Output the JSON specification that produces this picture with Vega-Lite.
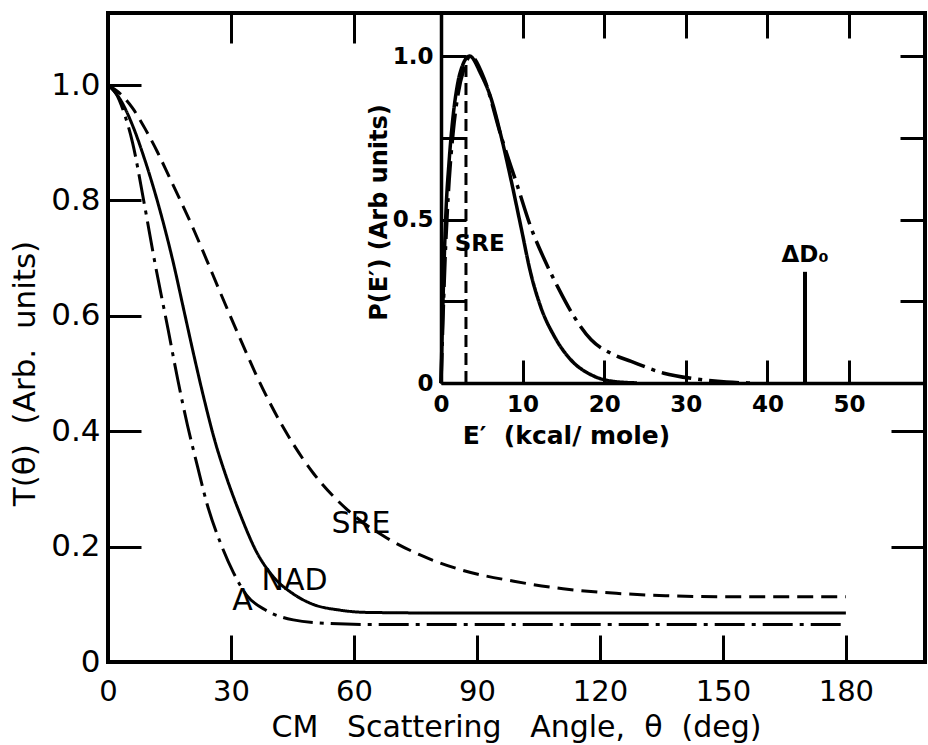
{
  "$schema": "https://vega.github.io/schema/vega-lite/v6.json",
  "width": 817,
  "height": 649,
  "autosize": {"type": "none"},
  "padding": {"left": 108, "top": 13, "right": 3, "bottom": 83},
  "background": "white",
  "config": {
    "view": {"stroke": "black", "strokeWidth": 4},
    "axis": {
      "grid": false, "domain": false,
      "labelFont": "DejaVu Sans", "titleFont": "DejaVu Sans",
      "labelColor": "black", "titleColor": "black", "tickColor": "black",
      "labelFontWeight": "normal", "titleFontWeight": "normal",
      "labelFlush": false, "labelOverlap": false
    },
    "text": {"font": "DejaVu Sans", "color": "black"}
  },
  "datasets": {
    "main": [
      {"deg": 0, "T": 1.0, "model": "SRE"}, {"deg": 3, "T": 0.985, "model": "SRE"}, {"deg": 6, "T": 0.96, "model": "SRE"},
      {"deg": 9, "T": 0.925, "model": "SRE"}, {"deg": 12, "T": 0.885, "model": "SRE"}, {"deg": 15, "T": 0.84, "model": "SRE"},
      {"deg": 18, "T": 0.795, "model": "SRE"}, {"deg": 21, "T": 0.748, "model": "SRE"}, {"deg": 24, "T": 0.698, "model": "SRE"},
      {"deg": 27, "T": 0.647, "model": "SRE"}, {"deg": 30, "T": 0.597, "model": "SRE"}, {"deg": 33, "T": 0.548, "model": "SRE"},
      {"deg": 36, "T": 0.5, "model": "SRE"}, {"deg": 39, "T": 0.456, "model": "SRE"}, {"deg": 42, "T": 0.416, "model": "SRE"},
      {"deg": 45, "T": 0.38, "model": "SRE"}, {"deg": 50, "T": 0.328, "model": "SRE"}, {"deg": 55, "T": 0.287, "model": "SRE"},
      {"deg": 60, "T": 0.254, "model": "SRE"}, {"deg": 68, "T": 0.215, "model": "SRE"}, {"deg": 76, "T": 0.186, "model": "SRE"},
      {"deg": 86, "T": 0.16, "model": "SRE"}, {"deg": 99, "T": 0.14, "model": "SRE"}, {"deg": 111, "T": 0.127, "model": "SRE"},
      {"deg": 124, "T": 0.119, "model": "SRE"}, {"deg": 136, "T": 0.115, "model": "SRE"}, {"deg": 150, "T": 0.113, "model": "SRE"},
      {"deg": 180, "T": 0.113, "model": "SRE"},
      {"deg": 0, "T": 1.0, "model": "NAD"}, {"deg": 3, "T": 0.975, "model": "NAD"}, {"deg": 6, "T": 0.93, "model": "NAD"},
      {"deg": 9, "T": 0.87, "model": "NAD"}, {"deg": 12.2, "T": 0.795, "model": "NAD"}, {"deg": 16, "T": 0.69, "model": "NAD"},
      {"deg": 18.5, "T": 0.61, "model": "NAD"}, {"deg": 21, "T": 0.53, "model": "NAD"}, {"deg": 23.4, "T": 0.457, "model": "NAD"},
      {"deg": 26, "T": 0.385, "model": "NAD"}, {"deg": 29, "T": 0.318, "model": "NAD"}, {"deg": 32.3, "T": 0.255, "model": "NAD"},
      {"deg": 36.3, "T": 0.19, "model": "NAD"}, {"deg": 40.3, "T": 0.148, "model": "NAD"}, {"deg": 45.2, "T": 0.118, "model": "NAD"},
      {"deg": 50, "T": 0.1, "model": "NAD"}, {"deg": 56.5, "T": 0.09, "model": "NAD"}, {"deg": 63, "T": 0.086, "model": "NAD"},
      {"deg": 80, "T": 0.085, "model": "NAD"}, {"deg": 120, "T": 0.085, "model": "NAD"}, {"deg": 180, "T": 0.085, "model": "NAD"},
      {"deg": 0, "T": 1.0, "model": "A"}, {"deg": 2, "T": 0.985, "model": "A"}, {"deg": 4, "T": 0.95, "model": "A"},
      {"deg": 6, "T": 0.9, "model": "A"}, {"deg": 8.7, "T": 0.8, "model": "A"}, {"deg": 11.5, "T": 0.69, "model": "A"},
      {"deg": 14.7, "T": 0.575, "model": "A"}, {"deg": 17, "T": 0.49, "model": "A"}, {"deg": 19.4, "T": 0.41, "model": "A"},
      {"deg": 21.8, "T": 0.34, "model": "A"}, {"deg": 24.2, "T": 0.273, "model": "A"}, {"deg": 27.4, "T": 0.207, "model": "A"},
      {"deg": 30.6, "T": 0.155, "model": "A"}, {"deg": 33.9, "T": 0.115, "model": "A"}, {"deg": 38.7, "T": 0.089, "model": "A"},
      {"deg": 45.2, "T": 0.073, "model": "A"}, {"deg": 53.2, "T": 0.067, "model": "A"}, {"deg": 63, "T": 0.065, "model": "A"},
      {"deg": 120, "T": 0.065, "model": "A"}, {"deg": 180, "T": 0.065, "model": "A"}
    ],
    "mainlabels": [
      {"deg": 61.7, "T": 0.24, "label": "SRE"},
      {"deg": 45.5, "T": 0.14, "label": "NAD"},
      {"deg": 32.8, "T": 0.105, "label": "A"}
    ],
    "inset": [
      {"E": 0, "P": 0, "model": "NAD"}, {"E": 0.3, "P": 0.3, "model": "NAD"}, {"E": 0.6, "P": 0.52, "model": "NAD"},
      {"E": 1.0, "P": 0.68, "model": "NAD"}, {"E": 1.5, "P": 0.82, "model": "NAD"}, {"E": 2.0, "P": 0.91, "model": "NAD"},
      {"E": 2.7, "P": 0.975, "model": "NAD"}, {"E": 3.5, "P": 1.0, "model": "NAD"}, {"E": 4.9, "P": 0.944, "model": "NAD"},
      {"E": 6.1, "P": 0.873, "model": "NAD"}, {"E": 7.3, "P": 0.761, "model": "NAD"}, {"E": 8.6, "P": 0.619, "model": "NAD"},
      {"E": 9.8, "P": 0.477, "model": "NAD"}, {"E": 11.0, "P": 0.335, "model": "NAD"}, {"E": 12.2, "P": 0.234, "model": "NAD"},
      {"E": 13.9, "P": 0.142, "model": "NAD"}, {"E": 15.9, "P": 0.071, "model": "NAD"}, {"E": 18.4, "P": 0.025, "model": "NAD"},
      {"E": 20.8, "P": 0.006, "model": "NAD"}, {"E": 24, "P": 0, "model": "NAD"},
      {"E": 0, "P": 0, "model": "A"}, {"E": 0.5, "P": 0.38, "model": "A"}, {"E": 1.0, "P": 0.62, "model": "A"},
      {"E": 1.5, "P": 0.77, "model": "A"}, {"E": 2.0, "P": 0.87, "model": "A"}, {"E": 2.8, "P": 0.96, "model": "A"},
      {"E": 3.6, "P": 1.0, "model": "A"}, {"E": 5.3, "P": 0.93, "model": "A"}, {"E": 7.3, "P": 0.76, "model": "A"},
      {"E": 9.4, "P": 0.6, "model": "A"}, {"E": 11, "P": 0.477, "model": "A"}, {"E": 12.7, "P": 0.376, "model": "A"},
      {"E": 14.3, "P": 0.294, "model": "A"}, {"E": 16.3, "P": 0.203, "model": "A"}, {"E": 18.4, "P": 0.132, "model": "A"},
      {"E": 20.8, "P": 0.091, "model": "A"}, {"E": 23.3, "P": 0.066, "model": "A"}, {"E": 27.3, "P": 0.03, "model": "A"},
      {"E": 31, "P": 0.013, "model": "A"}, {"E": 35, "P": 0.003, "model": "A"}, {"E": 38, "P": 0, "model": "A"}
    ],
    "sreline": [{"E": 3.06, "P0": 0, "P1": 0.98}],
    "ddline": [{"E": 44.6, "P0": 0, "P1": 0.34}],
    "insetlabels": [{"E": 4.75, "P": 0.426, "label": "SRE"}],
    "ddlabel": [{"E": 44.6, "P": 0.39, "label": "ΔD₀"}]
  },
  "resolve": {"scale": {"x": "independent", "y": "independent"}},
  "layer": [
    {
      "data": {"name": "main"},
      "mark": {"type": "line", "strokeWidth": 3, "interpolate": "monotone", "color": "black"},
      "encoding": {
        "x": {
          "field": "deg", "type": "quantitative",
          "scale": {"domain": [0, 199.3], "nice": false, "zero": false},
          "axis": {
            "orient": "bottom", "values": [0, 30, 60, 90, 120, 150, 180],
            "tickSize": -27, "tickWidth": 3, "labelPadding": 42, "labelFontSize": 29, "labelBaseline": "top",
            "title": "CM\u00a0\u00a0\u00a0Scattering\u00a0\u00a0\u00a0Angle,\u00a0\u00a0θ\u00a0\u00a0(deg)", "titleFontSize": 30,
            "titleX": 408, "titleY": 74, "titleBaseline": "alphabetic", "titleAlign": "center"
          }
        },
        "y": {
          "field": "T", "type": "quantitative",
          "scale": {"domain": [0, 1.125], "nice": false},
          "axis": {
            "orient": "left", "values": [0, 0.2, 0.4, 0.6, 0.8, 1.0],
            "labelExpr": "datum.value == 0 ? '0' : format(datum.value, '.1f')",
            "tickSize": -33, "tickWidth": 3, "labelPadding": 41, "labelFontSize": 31,
            "title": "T(θ)\u00a0\u00a0(Arb.\u00a0\u00a0units)", "titleFontSize": 31,
            "titleX": -83, "titleY": 360, "titleAngle": -90, "titleBaseline": "middle", "titleAlign": "center"
          }
        },
        "strokeDash": {
          "field": "model", "type": "nominal",
          "scale": {"domain": ["SRE", "NAD", "A"], "range": [[16, 8], [1, 0], [30, 7, 4, 7]]},
          "legend": null
        }
      }
    },
    {
      "data": {"name": "mainlabels"},
      "mark": {"type": "text", "fontSize": 30, "align": "center", "baseline": "middle"},
      "encoding": {
        "x": {
          "field": "deg", "type": "quantitative",
          "scale": {"domain": [0, 199.3], "nice": false, "zero": false},
          "axis": {"orient": "top", "values": [30, 60], "tickSize": -30, "tickWidth": 3, "labels": false, "title": null}
        },
        "y": {
          "field": "T", "type": "quantitative",
          "scale": {"domain": [0, 1.125], "nice": false},
          "axis": {"orient": "right", "values": [0.2, 0.4], "tickSize": -34, "tickWidth": 3, "labels": false, "title": null}
        },
        "text": {"field": "label"}
      }
    },
    {
      "data": {"name": "inset"},
      "mark": {"type": "line", "strokeWidth": 3.5, "interpolate": "monotone", "color": "black"},
      "encoding": {
        "x": {
          "field": "E", "type": "quantitative",
          "scale": {"domain": [0, 59.3], "range": [333, 817], "nice": false, "zero": false},
          "axis": {
            "orient": "bottom", "offset": -279, "values": [0, 10, 20, 30, 40, 50],
            "tickSize": -23, "tickWidth": 3, "labelPadding": 33, "labelFontSize": 23, "labelFontWeight": "bold", "labelBaseline": "top",
            "domain": true, "domainWidth": 3.5, "domainColor": "black",
            "title": "E′\u00a0\u00a0(kcal/\u00a0mole)", "titleFontSize": 25, "titleFontWeight": "bold",
            "titleX": 458, "titleY": 52, "titleBaseline": "middle", "titleAlign": "center"
          }
        },
        "y": {
          "field": "P", "type": "quantitative",
          "scale": {"domain": [0, 1.1315], "range": [370, 0], "nice": false},
          "axis": {
            "orient": "left", "offset": -333, "values": [0, 0.25, 0.5, 0.75, 1.0],
            "labelExpr": "datum.value == 0 ? '0' : (datum.value == 0.5 ? '0.5' : (datum.value == 1 ? '1.0' : ''))",
            "tickSize": -25, "tickWidth": 3, "labelPadding": 33, "labelFontSize": 23, "labelFontWeight": "bold",
            "domain": true, "domainWidth": 3.5, "domainColor": "black",
            "title": "P(E′)\u00a0(Arb\u00a0units)", "titleFontSize": 24, "titleFontWeight": "bold",
            "titleX": -62, "titleY": 199, "titleAngle": -90, "titleBaseline": "middle", "titleAlign": "center"
          }
        },
        "strokeDash": {
          "field": "model", "type": "nominal",
          "scale": {"domain": ["NAD", "A"], "range": [[1, 0], [14, 6, 4, 6]]},
          "legend": null
        }
      }
    },
    {
      "data": {"name": "sreline"},
      "mark": {"type": "rule", "color": "black", "strokeWidth": 3, "strokeDash": [12, 6]},
      "encoding": {
        "x": {"field": "E", "type": "quantitative", "scale": {"domain": [0, 59.3], "range": [333, 817], "nice": false, "zero": false}, "axis": null},
        "y": {"field": "P0", "type": "quantitative", "scale": {"domain": [0, 1.1315], "range": [370, 0], "nice": false}, "axis": null},
        "y2": {"field": "P1"}
      }
    },
    {
      "data": {"name": "ddline"},
      "mark": {"type": "rule", "color": "black", "strokeWidth": 4},
      "encoding": {
        "x": {"field": "E", "type": "quantitative", "scale": {"domain": [0, 59.3], "range": [333, 817], "nice": false, "zero": false}, "axis": null},
        "y": {"field": "P0", "type": "quantitative", "scale": {"domain": [0, 1.1315], "range": [370, 0], "nice": false}, "axis": null},
        "y2": {"field": "P1"}
      }
    },
    {
      "data": {"name": "insetlabels"},
      "mark": {"type": "text", "fontSize": 23, "fontWeight": "bold", "align": "center", "baseline": "middle"},
      "encoding": {
        "x": {"field": "E", "type": "quantitative", "scale": {"domain": [0, 59.3], "range": [333, 817], "nice": false, "zero": false}, "axis": null},
        "y": {"field": "P", "type": "quantitative", "scale": {"domain": [0, 1.1315], "range": [370, 0], "nice": false}, "axis": null},
        "text": {"field": "label"}
      }
    },
    {
      "data": {"name": "ddlabel"},
      "mark": {"type": "text", "fontSize": 23, "fontWeight": "bold", "align": "center", "baseline": "middle"},
      "encoding": {
        "x": {
          "field": "E", "type": "quantitative",
          "scale": {"domain": [0, 59.3], "range": [333, 817], "nice": false, "zero": false},
          "axis": {"orient": "top", "values": [10, 20, 30, 40, 50], "tickSize": -25, "tickWidth": 3, "labels": false, "title": null}
        },
        "y": {
          "field": "P", "type": "quantitative",
          "scale": {"domain": [0, 1.1315], "range": [370, 0], "nice": false},
          "axis": {"orient": "right", "values": [0.25, 0.5, 0.75, 1.0], "tickSize": -25, "tickWidth": 3, "labels": false, "title": null}
        },
        "text": {"field": "label"}
      }
    }
  ]
}
